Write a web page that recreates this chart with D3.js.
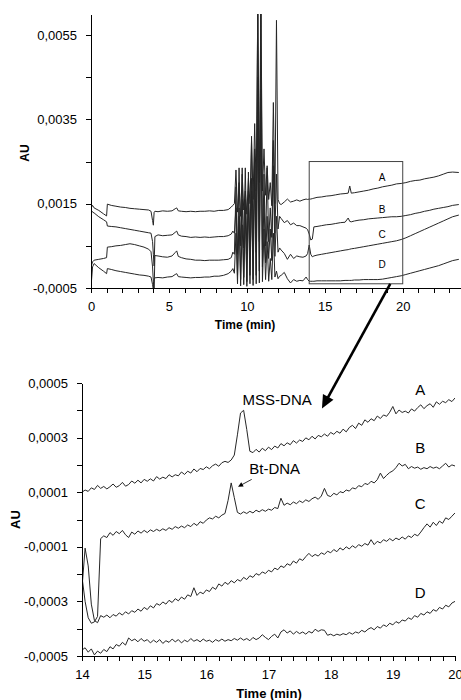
<!DOCTYPE html>
<html>
<head>
<meta charset="utf-8">
<script src="https://cdn.jsdelivr.net/npm/d3@7"></script>
<style>
body { margin: 0; background: #fff; }
svg { display: block; }
.axis path, .axis line { stroke: #000; shape-rendering: crispEdges; }
.axis text { fill: #000; }
.trace { fill: none; stroke: #262626; stroke-width: 1; stroke-linejoin: round; }
</style>
</head>
<body>
<div id="chart"></div>
<script>
// all absorbance values are in units of 1e-4 AU

// full run, 0 - 23.6 min
var topTime = [0, 0.1, 0.2, 0.5, 0.8, 1.0, 1.05, 1.3, 1.6, 1.9, 2.2, 2.5, 2.8, 3.1, 3.4, 3.7, 3.85, 3.95, 4.0, 4.05, 4.1,
  4.3, 4.6, 4.9, 5.2, 5.4, 5.5, 5.6, 5.8, 6.1, 6.4, 6.7, 7.0, 7.3, 7.6, 7.9, 8.2, 8.5, 8.8, 9.0, 9.1,
  9.2, 9.3, 9.4, 9.5, 9.6, 9.7, 9.8, 9.9, 10.0, 10.1, 10.2, 10.3, 10.4, 10.5, 10.6, 10.7, 10.8, 10.9, 11.0, 11.1,
  11.2, 11.3, 11.4, 11.5, 11.6, 11.7, 11.8, 11.9, 12.0, 12.1, 12.2,
  12.4, 12.6, 12.8, 13.0, 13.2, 13.4, 13.6, 13.8, 13.9, 14.0, 14.1, 14.2, 14.3, 14.5, 14.8, 15.1, 15.4, 15.7, 16.0, 16.3,
  16.5, 16.6, 16.7, 16.9, 17.2, 17.5, 17.8, 18.1, 18.4, 18.7, 19.0, 19.3, 19.6, 19.9, 20.2, 20.5, 20.8, 21.1, 21.4, 21.7,
  22.0, 22.3, 22.6, 22.9, 23.2, 23.6];

var topA = [14.0, 14.6, 14.0, 13.4, 12.6, 12.1, 14.9, 14.6, 14.4, 14.2, 14.1, 13.9, 13.8, 13.7, 13.6, 13.5, 13.2, 11.0, 9.9, 13.0, 13.2,
  13.1, 13.3, 13.2, 13.3, 13.8, 14.0, 13.3, 13.2, 13.1, 13.2, 13.1, 13.2, 13.2, 13.3, 13.2, 13.4, 13.4, 13.6, 14.2, 14.6,
  15.0, 23.0, 13.0, 20.0, 12.0, 22.0, 13.5, 18.0, 12.5, 21.0, 15.0, 30.0, 16.0, 34.0, 18.0, 62.0, 20.0, 63.0, 18.0, 28.0,
  17.0, 24.0, 16.0, 20.0, 14.5, 39.0, 15.0, 58.5, 16.0, 15.0, 14.8,
  15.4, 16.1, 15.4, 15.6, 15.9, 15.6, 15.9, 16.1, 16.0, 16.1, 16.1, 16.2, 16.3, 16.5, 16.6, 16.8, 16.9, 17.1, 17.3, 17.4,
  17.5, 19.2, 17.5, 17.6, 17.8, 18.0, 18.2, 18.5, 18.7, 19.0, 19.2, 19.4, 19.7, 19.8, 20.0, 20.3, 20.5, 20.6, 20.9, 21.1,
  21.3, 21.6, 22.0, 22.4, 22.5, 22.4];

var topB = [13.5, 13.0, 12.8, 11.9, 11.2, 10.7, 9.7, 9.6, 9.5, 9.3, 9.1, 8.9, 8.7, 8.5, 8.3, 8.1, 8.0, 6.0, 3.0, 0.2, 7.2,
  7.6, 7.4, 7.5, 7.6, 8.2, 8.5, 7.6, 7.3, 7.2, 7.0, 7.1, 7.0, 7.1, 7.0, 7.1, 7.2, 7.2, 7.4, 7.8, 8.5,
  8.0, 14.0, 3.0, 23.5, 5.0, 16.0, 4.5, 23.5, 3.0, 18.0, 4.0, 31.0, 5.0, 26.0, 3.5, 64.0, 6.0, 40.0, 4.0, 22.0,
  5.0, 23.5, 6.0, 14.0, 7.0, 30.0, 8.0, 22.0, 9.0, 12.0, 11.5,
  10.5, 11.0, 10.0, 10.4, 9.8, 9.8, 9.5, 9.2, 8.8, 7.8, 6.4, 6.6, 9.5, 9.6, 9.8, 10.0, 10.1, 10.3, 10.5, 10.6,
  11.6, 10.8, 10.7, 10.9, 11.1, 11.2, 11.4, 11.5, 11.6, 11.7, 11.8, 11.9, 11.9, 12.0, 12.2, 12.4, 12.7, 12.9, 13.2, 13.4,
  13.7, 13.9, 14.1, 14.3, 14.6, 14.8];

var topC = [0.0, 1.2, 1.6, 1.8, 2.0, 2.2, 4.7, 4.8, 5.0, 5.1, 5.3, 5.5, 5.3, 5.0, 4.7, 4.2, 3.6, 0.0, -3.5, -5.4, 2.7,
  2.6, 2.4, 2.3, 2.6, 3.4, 3.8, 2.5, 2.2, 1.9, 1.8, 1.6, 1.6, 1.5, 1.6, 1.6, 1.6, 1.7, 1.8, 2.2, 3.5,
  3.0, 19.0, -2.0, 14.0, -3.0, 23.5, -2.5, 16.0, -3.5, 22.5, -2.0, 21.0, -3.0, 28.0, -2.0, 45.0, -1.0, 61.0, 0.0, 16.0,
  1.0, 12.0, 2.0, 9.0, 1.5, 24.0, 2.5, 12.0, 3.5, 4.5, 4.0,
  3.2, 1.8, 3.0, 2.0, 2.6, 2.4, 2.3, 2.6, 3.2, 5.2, 3.0, 2.4, 2.6, 2.8, 3.0, 3.2, 3.4, 3.6, 3.8, 4.0,
  4.1, 4.2, 4.3, 4.4, 4.6, 4.8, 5.0, 5.2, 5.4, 5.6, 5.8, 6.0, 6.2, 6.5, 6.9, 7.4, 7.9, 8.4, 8.9, 9.4,
  9.9, 10.4, 10.9, 11.4, 11.9, 12.3];

var topD = [-4.8, 0.0, 0.8, -0.2, -1.0, -1.6, -0.4, -0.6, -0.9, -1.1, -1.3, -1.5, -1.7, -1.9, -2.0, -2.2, -2.4, -4.2, -5.5, -2.8, -2.6,
  -2.5, -2.6, -2.4, -2.3, -1.8, -1.6, -2.3, -2.4, -2.5, -2.6, -2.5, -2.5, -2.4, -2.4, -2.2, -2.2, -2.0, -1.6, -1.0, -0.4,
  -1.5, 8.0, -4.0, 12.0, -4.5, 10.0, -4.2, 13.0, -4.6, 15.0, -4.0, 18.0, -4.4, 24.0, -4.0, 35.0, -3.8, 42.0, -3.5, 9.0,
  -3.0, 6.0, -3.4, 2.0, -3.0, 8.0, -2.4, -1.0, -2.8, -2.2, -2.0,
  -1.3, -2.8, -3.8, -3.0, -3.4, -3.2, -3.3, -2.4, -3.0, -3.4, -3.4, -3.4, -3.4, -3.3, -3.3, -3.3, -3.3, -3.3, -3.3, -3.2,
  -3.2, -3.2, -3.2, -3.1, -3.1, -3.0, -3.0, -3.0, -3.0, -2.9, -2.7, -2.5, -2.3, -2.1, -1.8, -1.5, -1.2, -0.9, -0.6, -0.3,
  0.0, 0.3, 0.7, 1.1, 1.5, 1.8];

// enlarged window, 14 - 20 min
var zoomTime = [14.00, 14.05, 14.10, 14.15, 14.20, 14.25, 14.30, 14.35, 14.40, 14.45,
  14.50, 14.55, 14.60, 14.65, 14.70, 14.75, 14.80, 14.85, 14.90, 14.95,
  15.00, 15.05, 15.10, 15.15, 15.20, 15.25, 15.30, 15.35, 15.40, 15.45,
  15.50, 15.55, 15.60, 15.65, 15.70, 15.75, 15.80, 15.85, 15.90, 15.95,
  16.00, 16.05, 16.10, 16.15, 16.20, 16.25, 16.30, 16.35, 16.40, 16.45,
  16.50, 16.55, 16.60, 16.65, 16.70, 16.75, 16.80, 16.85, 16.90, 16.95,
  17.00, 17.05, 17.10, 17.15, 17.20, 17.25, 17.30, 17.35, 17.40, 17.45,
  17.50, 17.55, 17.60, 17.65, 17.70, 17.75, 17.80, 17.85, 17.90, 17.95,
  18.00, 18.05, 18.10, 18.15, 18.20, 18.25, 18.30, 18.35, 18.40, 18.45,
  18.50, 18.55, 18.60, 18.65, 18.70, 18.75, 18.80, 18.85, 18.90, 18.95,
  19.00, 19.05, 19.10, 19.15, 19.20, 19.25, 19.30, 19.35, 19.40, 19.45,
  19.50, 19.55, 19.60, 19.65, 19.70, 19.75, 19.80, 19.85, 19.90, 19.95,
  20.00];

var zoomA = [1.00, 1.08, 1.03, 1.16, 1.10, 1.25, 1.14, 1.21, 1.12, 1.20,
  1.30, 1.18, 1.24, 1.36, 1.22, 1.28, 1.41, 1.33, 1.44, 1.34,
  1.47, 1.40, 1.49, 1.41, 1.57, 1.48, 1.55, 1.50, 1.64, 1.56,
  1.64, 1.60, 1.74, 1.65, 1.77, 1.70, 1.85, 1.75, 1.87, 1.83,
  1.93, 1.86, 1.97, 2.03, 1.95, 2.08, 2.13, 2.09, 2.18, 2.36,
  3.10, 3.90, 4.00, 3.30, 2.50, 2.45, 2.57, 2.47, 2.61, 2.52,
  2.65, 2.56, 2.69, 2.62, 2.78, 2.70, 2.81, 2.74, 2.89, 2.80,
  2.91, 2.86, 2.99, 2.92, 3.05, 2.95, 3.08, 3.03, 3.13, 3.05,
  3.19, 3.12, 3.23, 3.16, 3.31, 3.21, 3.37, 3.45, 3.33, 3.53,
  3.45, 3.65, 3.56, 3.69, 3.62, 3.79, 3.70, 3.83, 3.78, 3.93,
  4.14, 3.87, 4.01, 3.92, 3.97, 3.90, 4.05, 3.97, 4.10, 4.20,
  4.06, 4.17, 4.24, 4.11, 4.31, 4.22, 4.33, 4.28, 4.39, 4.32,
  4.45];

var zoomB = [-2.10, -3.00, -3.60, -3.80, -3.75, -3.55, -0.70, -0.60, -0.66, -0.48,
  -0.58, -0.44, -0.52, -0.40, -0.56, -0.66, -0.46, -0.54, -0.42, -0.50,
  -0.40, -0.48, -0.38, -0.44, -0.36, -0.42, -0.34, -0.40, -0.30, -0.36,
  -0.26, -0.32, -0.24, -0.30, -0.20, -0.26, -0.14, -0.22, -0.08, -0.14,
  -0.02, 0.06, 0.02, 0.12, 0.06, 0.16, 0.22, 0.70, 1.34, 0.80,
  0.26, 0.20, 0.28, 0.22, 0.30, 0.24, 0.34, 0.28, 0.36, 0.30,
  0.38, 0.34, 0.44, 0.40, 0.78, 0.52, 0.60, 0.54, 0.64, 0.58,
  0.68, 0.62, 0.72, 0.66, 0.76, 0.82, 0.74, 0.86, 1.14, 0.88,
  0.84, 0.96, 0.90, 1.02, 0.98, 1.08, 1.04, 1.16, 1.12, 1.24,
  1.20, 1.32, 1.28, 1.40, 1.34, 1.46, 1.70, 1.50, 1.62, 1.72,
  1.78, 1.90, 2.06, 1.96, 2.02, 1.86, 1.94, 1.88, 1.92, 1.84,
  1.90, 1.86, 1.94, 1.88, 1.92, 1.86, 1.96, 2.06, 1.92, 2.00,
  1.96];

var zoomC = [-2.50, -1.05, -1.70, -3.10, -3.70, -3.78, -3.52, -3.58, -3.50, -3.60,
  -3.48, -3.54, -3.42, -3.50, -3.38, -3.46, -3.34, -3.40, -3.28, -3.36,
  -3.22, -3.30, -3.16, -3.24, -3.08, -3.14, -3.02, -3.10, -2.96, -3.04,
  -2.90, -2.98, -2.84, -2.92, -2.76, -2.82, -2.50, -2.78, -2.66, -2.72,
  -2.58, -2.64, -2.48, -2.56, -2.36, -2.44, -2.30, -2.38, -2.24, -2.32,
  -2.20, -2.26, -2.12, -2.20, -2.06, -2.12, -1.98, -2.04, -1.92, -1.98,
  -1.86, -1.92, -1.78, -1.84, -1.70, -1.76, -1.62, -1.68, -1.52, -1.60,
  -1.44, -1.50, -1.36, -1.24, -1.36, -1.28, -1.34, -1.22, -1.28, -1.16,
  -1.22, -1.10, -1.18, -1.04, -1.12, -1.00, -1.08, -0.96, -1.04, -0.92,
  -0.98, -0.88, -0.94, -0.74, -0.92, -0.80, -0.86, -0.74, -0.80, -0.70,
  -0.78, -0.68, -0.74, -0.64, -0.72, -0.60, -0.66, -0.54, -0.60, -0.46,
  -0.30, -0.16, -0.28, -0.10, -0.22, -0.06, -0.14, 0.06, 0.00, 0.12,
  0.24];

var zoomD = [-4.78, -4.70, -4.86, -4.74, -4.96, -4.82, -4.90, -4.76, -4.84, -4.66,
  -4.74, -4.58, -4.64, -4.50, -4.60, -4.34, -4.44, -4.38, -4.48, -4.36,
  -4.46, -4.40, -4.52, -4.42, -4.50, -4.40, -4.54, -4.44, -4.50, -4.38,
  -4.48, -4.40, -4.52, -4.42, -4.48, -4.36, -4.46, -4.40, -4.48, -4.38,
  -4.46, -4.42, -4.50, -4.40, -4.46, -4.38, -4.46, -4.40, -4.44, -4.36,
  -4.42, -4.34, -4.42, -4.36, -4.44, -4.32, -4.40, -4.34, -4.22, -4.32,
  -4.40, -4.28, -4.20, -4.34, -4.12, -4.04, -4.16, -4.08, -4.20, -4.10,
  -4.18, -4.12, -4.20, -4.10, -4.16, -4.02, -4.10, -4.04, -4.06, -4.24,
  -4.20, -4.26, -4.20, -4.24, -4.18, -4.22, -4.14, -4.20, -4.12, -4.16,
  -4.06, -4.12, -4.02, -3.96, -4.04, -3.92, -3.98, -3.86, -3.92, -3.80,
  -3.86, -3.74, -3.80, -3.68, -3.72, -3.60, -3.66, -3.52, -3.58, -3.44,
  -3.50, -3.38, -3.44, -3.30, -3.36, -3.22, -3.28, -3.14, -3.20, -3.06,
  -3.00];

// axis ticks
var topXTicks = [0, 5, 10, 15, 20];
var topYTicks = [-5, 15, 35, 55];
var topYMinor = [5, 25, 45];
var zoomXTicks = [14, 15, 16, 17, 18, 19, 20];
var zoomYTicks = [-5, -3, -1, 1, 3, 5];
var zoomYMinor = [-4, -2, 0, 2, 4];

// annotations (data coordinates)
var traceNames = ["A", "B", "C", "D"];
var topNameT = 18.67, topNameV = [21.3, 13.7, 7.8, 0.7];
var zoomNameT = 19.44, zoomNameV = [4.74, 2.62, 0.57, -2.66];
var insetBox = {t0: 14, t1: 20, v0: -4, v1: 25};

var font = "'Liberation Sans', Arial, sans-serif";
var width = 461, height = 700;

var svg = d3.select("#chart").append("svg")
  .attr("width", width)
  .attr("height", height)
  .style("font-family", font);

var x1 = d3.scaleLinear().domain([0, 23.7]).range([91, 460.4]);
var y1 = d3.scaleLinear().domain([-5, 60]).range([288, 14]);
var x2 = d3.scaleLinear().domain([14, 20]).range([82, 455]);
var y2 = d3.scaleLinear().domain([-5, 5]).range([656, 383]);

function au(d) {
  return (d / 10000).toFixed(4).replace(".", ",");
}

function drawAxes(x, y, xTicks, xMinor, yTicks, yMinor) {
  var y0 = y.range()[0], xl = x.range()[0];

  svg.append("g").attr("class", "axis")
    .attr("transform", "translate(0," + y0 + ")")
    .call(d3.axisBottom(x).tickValues(xTicks).tickSize(5).tickPadding(9)
      .tickSizeOuter(0).tickFormat(d3.format("d")))
    .attr("font-family", font)
    .attr("font-size", 13);
  svg.append("g").attr("class", "axis")
    .attr("transform", "translate(0," + y0 + ")")
    .call(d3.axisBottom(x).tickValues(xMinor).tickSize(5).tickFormat(""))
    .select(".domain").remove();

  svg.append("g").attr("class", "axis")
    .attr("transform", "translate(" + xl + ",0)")
    .call(d3.axisLeft(y).tickValues(yTicks).tickSize(5).tickPadding(9)
      .tickSizeOuter(0).tickFormat(au))
    .attr("font-family", font)
    .attr("font-size", 13);
  svg.append("g").attr("class", "axis")
    .attr("transform", "translate(" + xl + ",0)")
    .call(d3.axisLeft(y).tickValues(yMinor).tickSize(5).tickFormat(""))
    .select(".domain").remove();
}

function drawTraces(id, x, y, time, series) {
  svg.append("clipPath").attr("id", id)
    .append("rect")
    .attr("x", x.range()[0])
    .attr("y", y.range()[1])
    .attr("width", x.range()[1] - x.range()[0])
    .attr("height", y.range()[0] - y.range()[1]);

  var line = d3.line()
    .x(function(d, i) { return x(time[i]); })
    .y(function(d) { return y(d); });

  svg.append("g").attr("clip-path", "url(#" + id + ")")
    .selectAll("path")
    .data(series)
    .enter().append("path")
    .attr("class", "trace")
    .attr("d", line);
}

// ---- upper chart ----
drawTraces("clipTop", x1, y1, topTime, [topA, topB, topC, topD]);
drawAxes(x1, y1, topXTicks, d3.range(0, 24), topYTicks, topYMinor);

svg.append("rect")
  .attr("x", x1(insetBox.t0))
  .attr("y", y1(insetBox.v1))
  .attr("width", x1(insetBox.t1) - x1(insetBox.t0))
  .attr("height", y1(insetBox.v0) - y1(insetBox.v1))
  .attr("fill", "none")
  .attr("stroke", "#444")
  .attr("stroke-width", 1);

svg.selectAll(".topName")
  .data(traceNames)
  .enter().append("text")
  .attr("x", x1(topNameT))
  .attr("y", function(d, i) { return y1(topNameV[i]); })
  .attr("dy", "0.36em")
  .attr("text-anchor", "middle")
  .attr("font-size", 10)
  .text(function(d) { return d; });

svg.append("text")
  .attr("transform", "translate(29," + ((y1.range()[0] + y1.range()[1]) / 2 + 2) + ") rotate(-90)")
  .attr("text-anchor", "middle")
  .attr("font-size", 12)
  .attr("font-weight", "bold")
  .text("AU");

svg.append("text")
  .attr("x", 245)
  .attr("y", 329)
  .attr("text-anchor", "middle")
  .attr("font-size", 12)
  .attr("font-weight", "bold")
  .text("Time (min)");

// ---- lower chart ----
drawTraces("clipZoom", x2, y2, zoomTime, [zoomA, zoomB, zoomC, zoomD]);
drawAxes(x2, y2, zoomXTicks, d3.range(14, 20.01, 0.2), zoomYTicks, zoomYMinor);

svg.selectAll(".zoomName")
  .data(traceNames)
  .enter().append("text")
  .attr("x", x2(zoomNameT))
  .attr("y", function(d, i) { return y2(zoomNameV[i]); })
  .attr("dy", "0.36em")
  .attr("text-anchor", "middle")
  .attr("font-size", 15)
  .text(function(d) { return d; });

svg.append("text")
  .attr("x", x2(17.14))
  .attr("y", y2(4.41))
  .attr("dy", "0.36em")
  .attr("text-anchor", "middle")
  .attr("font-size", 15)
  .text("MSS-DNA");

svg.append("text")
  .attr("x", x2(17.10))
  .attr("y", y2(1.85))
  .attr("dy", "0.36em")
  .attr("text-anchor", "middle")
  .attr("font-size", 15)
  .text("Bt-DNA");

svg.append("text")
  .attr("transform", "translate(19.5," + ((y2.range()[0] + y2.range()[1]) / 2) + ") rotate(-90)")
  .attr("text-anchor", "middle")
  .attr("font-size", 13)
  .attr("font-weight", "bold")
  .text("AU");

svg.append("text")
  .attr("x", 269)
  .attr("y", 698)
  .attr("text-anchor", "middle")
  .attr("font-size", 13)
  .attr("font-weight", "bold")
  .text("Time (min)");

// arrows
function arrow(xa, ya, xb, yb, w, len, half) {
  var dx = xb - xa, dy = yb - ya;
  var L = Math.sqrt(dx * dx + dy * dy);
  var ux = dx / L, uy = dy / L;
  var bx = xb - ux * len, by = yb - uy * len;
  svg.append("line")
    .attr("x1", xa).attr("y1", ya)
    .attr("x2", bx + ux * 1).attr("y2", by + uy * 1)
    .attr("stroke", "#000")
    .attr("stroke-width", w);
  svg.append("path")
    .attr("d", "M" + xb + "," + yb +
      "L" + (bx - uy * half) + "," + (by + ux * half) +
      "L" + (bx + uy * half) + "," + (by - ux * half) + "Z")
    .attr("fill", "#000");
}

arrow(x1(19.2), y1(insetBox.v0), x2(17.86), y2(4.07), 2.6, 13, 6);
arrow(x2(16.73), y2(1.47), x2(16.51), y2(1.20), 0.8, 5, 2.5);
</script>
</body>
</html>
